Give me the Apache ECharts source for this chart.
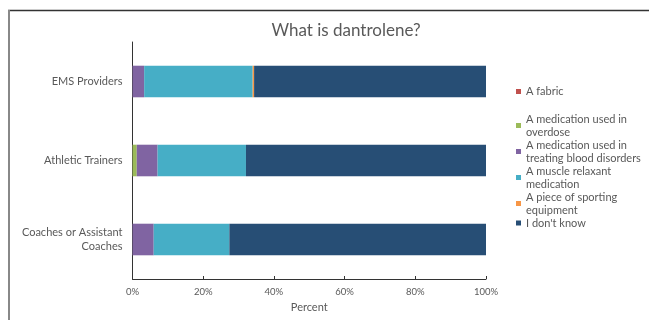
<!DOCTYPE html>
<html>
<head>
<meta charset="utf-8">
<script src="https://cdn.jsdelivr.net/npm/echarts@6/dist/echarts.min.js"></script>
<style>
html,body{margin:0;padding:0;background:#fff;}
#chart{width:649px;height:320px;}
</style>
</head>
<body>
<div id="chart"></div>
<script>
const categories = ['EMS Providers', 'Athletic Trainers', 'Coaches or Assistant\nCoaches'];
const seriesNames = ['A fabric', 'A medication used in overdose', 'A medication used in treating blood disorders', 'A muscle relaxant medication', 'A piece of sporting equipment', "I don't know"];
const legendLabels = ['A fabric', 'A medication used in\noverdose', 'A medication used in\ntreating blood disorders', 'A muscle relaxant\nmedication', 'A piece of sporting\nequipment', "I don't know"];
const aFabric = [0, 0, 0];
const overdose = [0, 1.2, 0];
const bloodDisorders = [3.3, 5.9, 6.0];
const muscleRelaxant = [30.7, 25.0, 21.4];
const sportingEquipment = [0.4, 0, 0];
const dontKnow = [65.6, 67.9, 72.6];
const xTicks = [0, 20, 40, 60, 80, 100];

const values = [aFabric, overdose, bloodDisorders, muscleRelaxant, sportingEquipment, dontKnow];
const colors = ['#C0504D', '#9BBB59', '#8064A2', '#46AEC6', '#F79646', '#274E75'];
const FONT = 'Lato';
const labelMap = {};
seriesNames.forEach((n, i) => labelMap[n] = legendLabels[i]);

const chart = echarts.init(document.getElementById('chart'));
chart.setOption({
  animation: false,
  color: colors,
  title: {
    text: 'What is dantrolene?',
    left: 341, top: 17, textAlign: 'center',
    textStyle: {fontFamily: FONT, fontSize: 17, fontWeight: 'normal', color: '#595959'}
  },
  graphic: [
    {type: 'line', shape: {x1: 8, y1: 10.5, x2: 649, y2: 10.5}, style: {stroke: '#333', lineWidth: 1.5}},
    {type: 'line', shape: {x1: 9, y1: 10, x2: 9, y2: 320}, style: {stroke: '#888', lineWidth: 2}}
  ],
  legend: [
    {
      data: [seriesNames[0]],
      left: 516, top: 85, padding: 0, orient: 'vertical',
      icon: 'rect', itemWidth: 5, itemHeight: 5,
      formatter: n => labelMap[n],
      textStyle: {fontFamily: FONT, fontSize: 11, color: '#595959', lineHeight: 13}
    },
    {
      data: seriesNames.slice(1),
      left: 516, top: 112.5, padding: 0, orient: 'vertical', itemGap: 0,
      icon: 'rect', itemWidth: 5, itemHeight: 5,
      formatter: n => labelMap[n],
      textStyle: {fontFamily: FONT, fontSize: 11, color: '#595959', lineHeight: 13}
    }
  ],
  grid: {left: 132.5, right: 163, top: 42, bottom: 41},
  xAxis: {
    type: 'value', min: 0, max: 100, interval: 20,
    name: 'Percent', nameLocation: 'middle', nameGap: 23,
    nameTextStyle: {fontFamily: FONT, fontSize: 11, color: '#595959'},
    axisLine: {show: true, lineStyle: {color: '#333', width: 1}},
    axisTick: {show: true, length: 3, inside: true, lineStyle: {color: '#333'}},
    splitLine: {show: false},
    axisLabel: {formatter: v => v + '%', fontFamily: FONT, fontSize: 9.5, color: '#595959', margin: 8}
  },
  yAxis: {
    type: 'category', data: categories, inverse: true,
    axisLine: {show: true, lineStyle: {color: '#333', width: 1}},
    axisTick: {show: false},
    axisLabel: {fontFamily: FONT, fontSize: 11, color: '#595959', margin: 10, lineHeight: 14, align: 'right'}
  },
  series: seriesNames.map((n, i) => ({
    name: n, type: 'bar', stack: 'total', barWidth: '40%',
    data: values[i],
    itemStyle: {color: colors[i]}
  }))
});
</script>
</body>
</html>
